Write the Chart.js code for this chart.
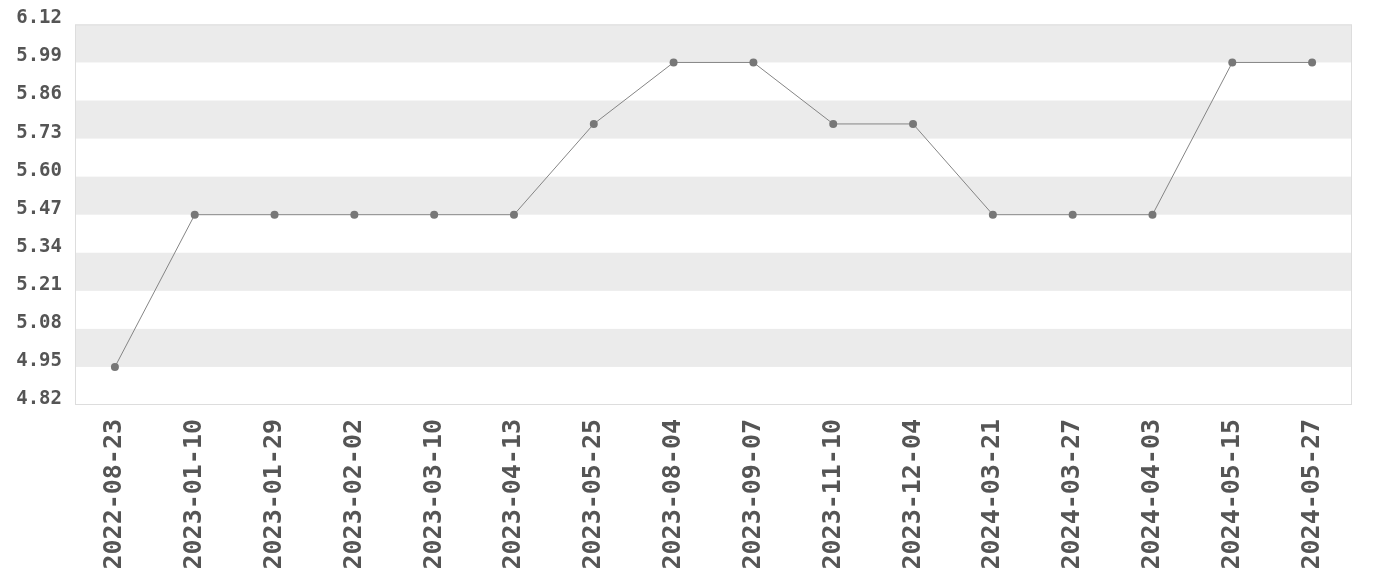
<!DOCTYPE html>
<html>
<head>
<meta charset="utf-8">
<script src="https://cdn.jsdelivr.net/npm/chart.js@4/dist/chart.umd.min.js"></script>
<style>
html,body{margin:0;padding:0;background:#fff;}
#wrap{width:1380px;height:580px;position:relative;}
</style>
</head>
<body>
<div id="wrap"><canvas id="c" width="1380" height="580"></canvas></div>
<script>
const categories = ["2022-08-23","2023-01-10","2023-01-29","2023-02-02","2023-03-10","2023-04-13","2023-05-25","2023-08-04","2023-09-07","2023-11-10","2023-12-04","2024-03-21","2024-03-27","2024-04-03","2024-05-15","2024-05-27"];
const values = [4.95,5.47,5.47,5.47,5.47,5.47,5.78,5.99,5.99,5.78,5.78,5.47,5.47,5.47,5.99,5.99];
const yTicks = [4.82,4.95,5.08,5.21,5.34,5.47,5.60,5.73,5.86,5.99,6.12];

const bandPlugin = {
  id: 'bands',
  beforeDatasetsDraw(chart) {
    const {ctx, chartArea, scales} = chart;
    const y = scales.y;
    ctx.save();
    ctx.fillStyle = '#ebebeb';
    for (let i = 1; i < yTicks.length - 1; i += 2) {
      const y0 = y.getPixelForValue(yTicks[i]);
      const y1 = y.getPixelForValue(yTicks[i + 1]);
      ctx.fillRect(chartArea.left, y1, chartArea.right - chartArea.left, y0 - y1);
    }
    ctx.strokeStyle = '#dddddd';
    ctx.lineWidth = 1;
    ctx.strokeRect(chartArea.left + 0.5, chartArea.top + 0.5, chartArea.right - chartArea.left - 1, chartArea.bottom - chartArea.top - 1);
    ctx.restore();
  }
};

new Chart(document.getElementById('c'), {
  type: 'line',
  data: {
    labels: categories,
    datasets: [{
      data: values,
      borderColor: '#858585',
      borderWidth: 1,
      pointBackgroundColor: '#777777',
      pointBorderColor: '#777777',
      pointRadius: 4,
      pointBorderWidth: 0,
      tension: 0
    }]
  },
  options: {
    responsive: false,
    animation: false,
    layout: { padding: { top: 23, right: 28, left: 0, bottom: 0 } },
    plugins: { legend: { display: false }, tooltip: { enabled: false } },
    scales: {
      x: {
        offset: true,
        grid: { display: false, drawTicks: false },
        border: { display: false },
        ticks: {
          maxRotation: 90, minRotation: 90, autoSkip: false,
          padding: 14,
          color: '#555555',
          font: { family: 'DejaVu Sans Mono', weight: 'bold', size: 25 }
        },
        afterFit(s) { s.height = 175; }
      },
      y: {
        min: 4.82, max: 6.12,
        grid: { display: false, drawTicks: false },
        border: { display: false },
        afterBuildTicks(s) { s.ticks = yTicks.map(v => ({ value: v })); },
        ticks: {
          padding: 13,
          labelOffset: -6,
          color: '#555555',
          font: { family: 'DejaVu Sans Mono', weight: 'bold', size: 19 },
          callback: v => Number(v).toFixed(2)
        },
        afterFit(s) { s.width = 75; }
      }
    }
  },
  plugins: [bandPlugin]
});
</script>
</body>
</html>
